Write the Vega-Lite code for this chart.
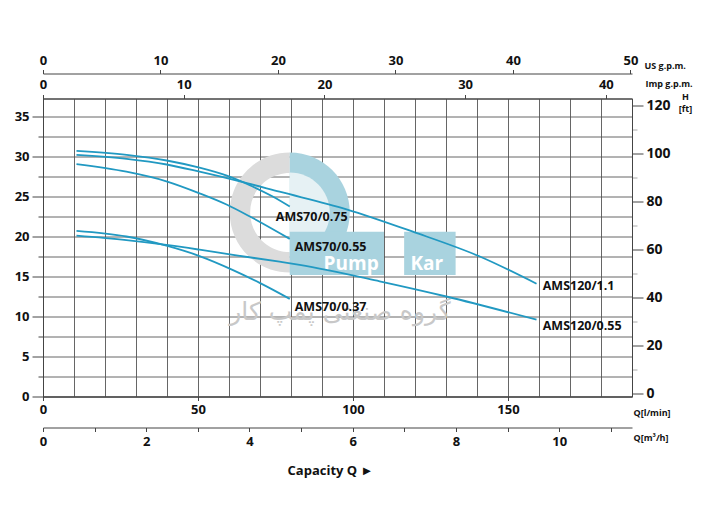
{
  "$schema": "https://vega.github.io/schema/vega-lite/v6.json",
  "width": 589,
  "height": 298,
  "autosize": {"type": "none"},
  "padding": {"left": 43, "top": 98.5, "right": 74, "bottom": 133.5},
  "background": "white",
  "config": {
    "view": {"stroke": "#444", "strokeWidth": 1},
    "font": "Open Sans",
    "axis": {
      "labelFont": "Open Sans",
      "labelFontWeight": "bold",
      "labelFontSize": 13,
      "labelColor": "#111",
      "domainColor": "#444",
      "tickColor": "#444",
      "titleFont": "Open Sans",
      "titleFontWeight": "bold",
      "titleFontSize": 9,
      "titleColor": "#111",
      "titleAngle": 0,
      "titleAlign": "left",
      "titleBaseline": "middle",
      "labelOverlap": false,
      "labelFlush": false
    }
  },
  "title": {
    "text": "Capacity Q  ►",
    "orient": "bottom",
    "anchor": "middle",
    "offset": 16,
    "dx": -7,
    "fontSize": 13,
    "fontWeight": "bold",
    "font": "Open Sans",
    "color": "#111"
  },
  "datasets": {
    "curves": [
      {"series": "AMS70/0.75", "Q": 10.8, "H": 30.7},
      {"series": "AMS70/0.75", "Q": 27.0, "H": 30.2},
      {"series": "AMS70/0.75", "Q": 39.9, "H": 29.5},
      {"series": "AMS70/0.75", "Q": 50.5, "H": 28.6},
      {"series": "AMS70/0.75", "Q": 59.3, "H": 27.6},
      {"series": "AMS70/0.75", "Q": 67.6, "H": 26.25},
      {"series": "AMS70/0.75", "Q": 74.1, "H": 25.0},
      {"series": "AMS70/0.75", "Q": 79.6, "H": 23.75},
      {"series": "AMS120/1.1", "Q": 10.8, "H": 30.2},
      {"series": "AMS120/1.1", "Q": 27.0, "H": 29.7},
      {"series": "AMS120/1.1", "Q": 39.9, "H": 29.0},
      {"series": "AMS120/1.1", "Q": 50.5, "H": 28.1},
      {"series": "AMS120/1.1", "Q": 63.5, "H": 26.9},
      {"series": "AMS120/1.1", "Q": 76.3, "H": 25.6},
      {"series": "AMS120/1.1", "Q": 97.9, "H": 23.4},
      {"series": "AMS120/1.1", "Q": 119.3, "H": 20.6},
      {"series": "AMS120/1.1", "Q": 140.9, "H": 17.5},
      {"series": "AMS120/1.1", "Q": 159.2, "H": 14.1},
      {"series": "AMS70/0.55", "Q": 10.8, "H": 29.05},
      {"series": "AMS70/0.55", "Q": 26.9, "H": 28.1},
      {"series": "AMS70/0.55", "Q": 39.8, "H": 26.9},
      {"series": "AMS70/0.55", "Q": 50.5, "H": 25.4},
      {"series": "AMS70/0.55", "Q": 59.2, "H": 24.0},
      {"series": "AMS70/0.55", "Q": 67.2, "H": 22.4},
      {"series": "AMS70/0.55", "Q": 79.6, "H": 19.7},
      {"series": "AMS70/0.37", "Q": 10.8, "H": 20.7},
      {"series": "AMS70/0.37", "Q": 26.9, "H": 20.0},
      {"series": "AMS70/0.37", "Q": 39.8, "H": 18.85},
      {"series": "AMS70/0.37", "Q": 50.5, "H": 17.55},
      {"series": "AMS70/0.37", "Q": 61.3, "H": 15.8},
      {"series": "AMS70/0.37", "Q": 69.9, "H": 14.2},
      {"series": "AMS70/0.37", "Q": 79.6, "H": 12.2},
      {"series": "AMS120/0.55", "Q": 10.8, "H": 20.1},
      {"series": "AMS120/0.55", "Q": 26.9, "H": 19.55},
      {"series": "AMS120/0.55", "Q": 39.8, "H": 18.95},
      {"series": "AMS120/0.55", "Q": 50.5, "H": 18.35},
      {"series": "AMS120/0.55", "Q": 61.3, "H": 17.7},
      {"series": "AMS120/0.55", "Q": 76.3, "H": 16.85},
      {"series": "AMS120/0.55", "Q": 82.8, "H": 16.45},
      {"series": "AMS120/0.55", "Q": 108.6, "H": 14.4},
      {"series": "AMS120/0.55", "Q": 130.1, "H": 12.5},
      {"series": "AMS120/0.55", "Q": 159.2, "H": 9.6}
    ],
    "labels": [
      {"label": "AMS70/0.75", "Q": 75.1, "H": 22.46},
      {"label": "AMS70/0.55", "Q": 81.2, "H": 18.65},
      {"label": "AMS70/0.37", "Q": 81.2, "H": 11.2},
      {"label": "AMS120/1.1", "Q": 161.2, "H": 13.84},
      {"label": "AMS120/0.55", "Q": 161.2, "H": 8.84}
    ],
    "logoRing": [{"Q": 79.6, "H": 23.0}],
    "logoBoxes": [
      {"Q": 79.6, "Q2": 110.0, "H": 20.6, "H2": 15.2},
      {"Q": 116.5, "Q2": 133.1, "H": 20.6, "H2": 15.2}
    ],
    "logoWords": [
      {"word": "Pump", "Q": 99.4, "H": 15.8},
      {"word": "Kar", "Q": 123.8, "H": 15.8}
    ],
    "logoPersian": [{"word": "گروه صنعتی پمپ کار", "Q": 95.8, "H": 10.6}],
    "axisM3h": [{"m3h": 0, "ft": 0}],
    "axisUs": [{"us": 0}],
    "axisImp": [{"imp": 0}]
  },
  "layer": [
    {
      "encoding": {
        "x": {
          "field": "Q",
          "type": "quantitative",
          "scale": {"domain": [0, 190], "nice": false, "zero": false},
          "axis": {
            "orient": "bottom",
            "values": [0, 10, 20, 30, 40, 50, 60, 70, 80, 90, 100, 110, 120, 130, 140, 150, 160, 170, 180, 190],
            "labelExpr": "datum.value % 50 === 0 ? datum.label : ''",
            "grid": true,
            "gridColor": "#555555",
            "gridWidth": 0.9,
            "tickSize": {"condition": {"test": "datum.value % 50 === 0", "value": 4}, "value": 0},
            "labelPadding": 3,
            "title": "Q[l/min]",
            "titleX": 590,
            "titleY": 16
          }
        },
        "y": {
          "field": "H",
          "type": "quantitative",
          "scale": {"domain": [0, 37.25], "nice": false, "zero": false},
          "axis": {
            "orient": "left",
            "values": [0, 2.5, 5, 7.5, 10, 12.5, 15, 17.5, 20, 22.5, 25, 27.5, 30, 32.5, 35],
            "labelExpr": "datum.value % 5 === 0 ? datum.label : ''",
            "grid": true,
            "gridColor": "#555555",
            "gridWidth": 0.9,
            "tickSize": {"condition": {"test": "datum.value % 5 === 0", "value": 11}, "value": 5},
            "labelPadding": 3,
            "title": null
          }
        }
      },
      "layer": [
        {
          "data": {"name": "logoRing"},
          "mark": {"type": "point", "filled": true, "opacity": 1, "fill": "#dcdcdc", "strokeWidth": 0,
                   "shape": "M0,-1 A1,1 0 0,0 0,1 L0,0.66 A0.66,0.66 0 0,1 0,-0.66 Z", "size": 14400}
        },
        {
          "data": {"name": "logoRing"},
          "mark": {"type": "point", "filled": true, "opacity": 1, "fill": "#a9d3df", "strokeWidth": 0,
                   "shape": "M0,-1 A1,1 0 0,1 0,1 Z", "size": 14400}
        },
        {
          "data": {"name": "logoRing"},
          "mark": {"type": "point", "filled": true, "opacity": 1, "fill": "#e6f1f4", "strokeWidth": 0,
                   "shape": "M0,-1 A1,1 0 0,1 0,1 Z", "size": 6400}
        },
        {
          "data": {"name": "logoBoxes"},
          "mark": {"type": "rect", "fill": "#a9d3df", "opacity": 1},
          "encoding": {
            "x2": {"field": "Q2"},
            "y2": {"field": "H2"}
          }
        },
        {
          "data": {"name": "logoWords"},
          "mark": {"type": "text", "font": "Open Sans", "fontWeight": "bold", "fontSize": 19, "color": "white", "align": "center", "baseline": "alphabetic"},
          "encoding": {"text": {"field": "word"}}
        },
        {
          "data": {"name": "logoPersian"},
          "mark": {"type": "text", "font": "DejaVu Sans", "fontSize": 25, "color": "#c8c8c8", "align": "center", "baseline": "middle"},
          "encoding": {"text": {"field": "word"}}
        },
        {
          "data": {"name": "curves"},
          "mark": {"type": "line", "color": "#2199c2", "strokeWidth": 1.8, "interpolate": "monotone"},
          "encoding": {"detail": {"field": "series"}}
        },
        {
          "data": {"name": "labels"},
          "mark": {"type": "text", "font": "Open Sans", "fontWeight": "bold", "fontSize": 12.5, "color": "#111", "align": "left", "baseline": "middle"},
          "encoding": {"text": {"field": "label"}}
        }
      ]
    },
    {
      "data": {"name": "axisM3h"},
      "mark": {"type": "point", "opacity": 0},
      "encoding": {
        "x": {
          "field": "m3h",
          "type": "quantitative",
          "scale": {"domain": [0, 11.41], "nice": false, "zero": false},
          "axis": {
            "orient": "bottom",
            "offset": 31,
            "values": [0, 1, 2, 3, 4, 5, 6, 7, 8, 9, 10, 11],
            "labelExpr": "datum.value % 2 === 0 ? datum.label : ''",
            "grid": false,
            "tickSize": 4,
            "labelPadding": 4,
            "title": "Q[m³/h]",
            "titleX": 590,
            "titleY": 10
          }
        },
        "y": {
          "field": "ft",
          "type": "quantitative",
          "scale": {"domain": [-1.1, 123.1], "nice": false, "zero": false},
          "axis": {
            "orient": "right",
            "values": [0, 10, 20, 30, 40, 50, 60, 70, 80, 90, 100, 110, 120],
            "labelExpr": "datum.value % 20 === 0 ? datum.label : ''",
            "grid": false,
            "tickSize": {"condition": {"test": "datum.value % 20 === 0", "value": 11}, "value": 5},
            "tickColor": {"condition": {"test": "datum.value % 20 === 0", "value": "#444"}, "value": "#aaa"},
            "labelPadding": 3,
            "labelFontSize": 14,
            "title": ["H", "[ft]"],
            "titleAlign": "center",
            "titleX": 53,
            "titleY": -2,
            "titleLineHeight": 12
          }
        }
      }
    },
    {
      "data": {"name": "axisUs"},
      "mark": {"type": "point", "opacity": 0},
      "encoding": {
        "x": {
          "field": "us",
          "type": "quantitative",
          "scale": {"domain": [0, 50.13], "nice": false, "zero": false},
          "axis": {
            "orient": "top",
            "offset": 25,
            "values": [0, 10, 20, 30, 40, 50],
            "grid": false,
            "tickSize": 4,
            "labelPadding": 2,
            "title": "US g.p.m.",
            "titleX": 601,
            "titleY": -8
          }
        }
      }
    },
    {
      "data": {"name": "axisImp"},
      "mark": {"type": "point", "opacity": 0},
      "encoding": {
        "x": {
          "field": "imp",
          "type": "quantitative",
          "scale": {"domain": [0, 41.86], "nice": false, "zero": false},
          "axis": {
            "orient": "top",
            "offset": 0,
            "values": [0, 10, 20, 30, 40],
            "grid": false,
            "tickSize": 4,
            "labelPadding": 3,
            "title": "Imp g.p.m.",
            "titleX": 602,
            "titleY": -15
          }
        }
      }
    }
  ],
  "resolve": {"scale": {"x": "independent", "y": "independent"}}
}
